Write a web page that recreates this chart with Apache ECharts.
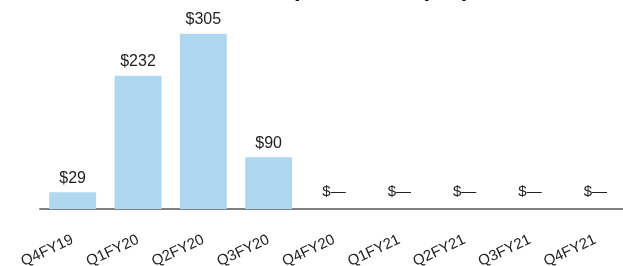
<!DOCTYPE html>
<html>
<head>
<meta charset="utf-8">
<script src="https://cdn.jsdelivr.net/npm/echarts@6/dist/echarts.min.js"></script>
<style>
  html, body { margin: 0; padding: 0; background: #fff; }
  #chart { width: 623px; height: 266px; }
</style>
</head>
<body>
<div id="chart"></div>
<script>
const categories = ['Q4FY19', 'Q1FY20', 'Q2FY20', 'Q3FY20', 'Q4FY20', 'Q1FY21', 'Q2FY21', 'Q3FY21', 'Q4FY21'];
const repurchases = [29, 232, 305, 90, 0, 0, 0, 0, 0];
const titleText = 'Share Repurchases ($M)';

const chart = echarts.init(document.getElementById('chart'));

const option = {
  animation: false,
  textStyle: { fontFamily: 'Liberation Sans, Arial, sans-serif' },
  title: {
    text: titleText,
    right: 148,
    top: -28,
    textStyle: { fontSize: 24, fontWeight: 'bold', color: '#111' }
  },
  grid: { left: 40, width: 588, top: 8, height: 201, outerBoundsMode: 'none', containLabel: false },
  xAxis: {
    type: 'category',
    data: categories,
    axisLine: { lineStyle: { color: '#7f7f7f', width: 2 } },
    axisTick: { show: false },
    axisLabel: { rotate: 25, margin: 30, fontSize: 15, color: '#222' }
  },
  yAxis: {
    type: 'value',
    min: 0,
    max: 350,
    show: false,
    splitLine: { show: false }
  },
  series: [{
    type: 'bar',
    barWidth: 47,
    itemStyle: { color: '#afd7f0' },
    data: repurchases.map(v => v === 0
      ? { value: v, label: { fontSize: 15, distance: 10 } }
      : { value: v }),
    label: {
      show: true,
      position: 'top',
      distance: 6,
      fontSize: 16,
      color: '#222',
      formatter: p => p.value === 0 ? '$\u2014' : '$' + p.value
    }
  }]
};

chart.setOption(option);
</script>
</body>
</html>
